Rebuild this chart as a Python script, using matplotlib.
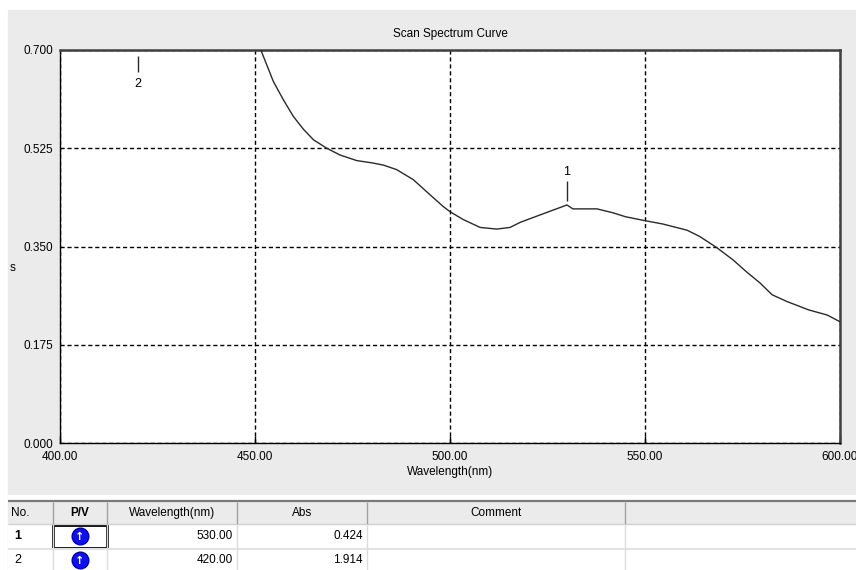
import numpy as np
import matplotlib
matplotlib.use("Agg")
import matplotlib.pyplot as plt
from matplotlib.patches import Rectangle

plt.rcParams['font.family'] = ['Liberation Sans', 'DejaVu Sans']

# spectrum (wavelength in nm, absorbance)
wavelength = [450.5, 451.5, 454.7, 457.3, 459.8, 462.4, 465.0, 468.4, 471.8, 476.1,
              480.0, 482.9, 486.3, 490.6, 494.9, 498.3, 500.0, 503.4, 507.7, 512.0,
              515.4, 518.0, 523.0, 526.5, 530.0, 531.5, 537.7, 541.8, 545.0, 550.0,
              554.6, 560.8, 564.0, 568.4, 572.6, 576.0, 579.5, 582.6, 586.4, 592.0,
              596.7, 600.0]
absorb = [0.718, 0.700, 0.644, 0.611, 0.582, 0.559, 0.540, 0.525, 0.513, 0.503,
          0.499, 0.495, 0.487, 0.469, 0.442, 0.421, 0.412, 0.398, 0.384, 0.381,
          0.384, 0.393, 0.406, 0.415, 0.424, 0.417, 0.417, 0.410, 0.403, 0.396,
          0.390, 0.379, 0.368, 0.348, 0.326, 0.305, 0.285, 0.264, 0.252, 0.237,
          0.228, 0.216]

# peak table
peak_no = [1, 2]
peak_wl = [530.00, 420.00]
peak_abs = [0.424, 1.914]

x_ticks = [400, 450, 500, 550, 600]
y_ticks = [0.0, 0.175, 0.350, 0.525, 0.700]
col_names = ["No.", "P/V", "Wavelength(nm)", "Abs", "Comment", ""]

W, H = 856, 570
gray = '#ebebeb'
fs = 8.5
fig = plt.figure(figsize=(W / 100, H / 100), dpi=100, facecolor='white')
# grey window background below a thin white strip
fig.patches.append(Rectangle((8 / W, 0), 1, (H - 10) / H, transform=fig.transFigure,
                             color=gray, zorder=-10))

# ---- main chart ----
ax = fig.add_axes([60 / W, (H - 443) / H, 780 / W, 393 / H])
ax.set_facecolor('white')
ax.plot(wavelength, absorb, color='#2a2a2a', lw=1.0, zorder=3)
ax.set_xlim(400, 600)
ax.set_ylim(0, 0.7)
ax.set_xticks(x_ticks)
ax.set_yticks(y_ticks)
ax.set_xticklabels(["%.2f" % v for v in x_ticks], fontsize=fs)
ax.set_yticklabels(["%.3f" % v for v in y_ticks], fontsize=fs)
ax.tick_params(axis='x', direction='in', length=5, width=1, pad=6)
ax.tick_params(axis='y', length=0, pad=5)
ax.grid(True, color='black', linestyle=(0, (3, 2)), lw=1)
for s in ['left', 'bottom']:
    ax.spines[s].set_color('black')
    ax.spines[s].set_linewidth(1)
for s in ['top', 'right']:
    ax.spines[s].set_color('#404040')
    ax.spines[s].set_linewidth(1.8)
ax.set_title("Scan Spectrum Curve", fontsize=fs, pad=9)
ax.set_xlabel("Wavelength(nm)", fontsize=fs, labelpad=2)
fig.text(10 / W, (H - 268) / H, "s", fontsize=fs, va='center')

# peak markers
px = 0.7 / 393
for n, w, a in zip(peak_no, peak_wl, peak_abs):
    if a <= 0.7:
        ax.vlines(w, a + 4 * px, a + 24 * px, color='#2a2a2a', lw=1)
        ax.text(w, a + 33 * px, str(n), ha='center', va='center', fontsize=9)
    else:
        ax.vlines(w, 0.7 - 6 * px, 0.7 - 22 * px, color='#2a2a2a', lw=1)
        ax.text(w, 0.7 - 34 * px, str(n), ha='center', va='center', fontsize=9)

# ---- peak table (pixel coordinates) ----
at = fig.add_axes([0, 0, 1, 75 / H])
at.set_xlim(0, W)
at.set_ylim(H, H - 75)
at.axis('off')
col_edges = [8, 53, 107, 237, 367, 625, W]
at.add_patch(Rectangle((8, 495), W, 5, color='white', lw=0))
at.add_patch(Rectangle((8, 502), W, 22, color=gray, lw=0))
at.hlines(501, 8, W, color='#7a7a7a', lw=1.6)
at.hlines(524, 8, W, color='#d0d0d0', lw=1)
at.add_patch(Rectangle((8, 524.5), W, 50, color='white', lw=0))
at.hlines(548.5, 8, W, color='#e2e2e2', lw=1.5)
for e in col_edges[1:-1]:
    at.vlines(e, 502, 524, color='#a0a0a0', lw=1)
    at.vlines(e, 524, 570, color='#dcdcdc', lw=1)

hy = 513
for i, name in enumerate(col_names):
    if not name:
        continue
    if i == 0:
        at.text(11, hy, name, ha='left', va='center', fontsize=fs)
    else:
        cx = (col_edges[i] + col_edges[i + 1]) / 2
        at.text(cx, hy, name, ha='center', va='center', fontsize=fs,
                fontweight='bold' if name == "P/V" else 'normal')

row_y = [536, 560]
for r, (n, w, a) in enumerate(zip(peak_no, peak_wl, peak_abs)):
    y = row_y[r]
    at.text(14, y, str(n), ha='left', va='center', fontsize=9,
            fontweight='bold' if r == 0 else 'normal')
    at.plot(80, y, 'o', ms=12, mfc='#1010e8', mec='#0000b0', mew=1)
    at.text(80, y + 0.5, u"\u2191", ha='center', va='center', color='white',
            fontsize=8, fontweight='bold', family='DejaVu Sans')
    at.text(233, y, "%.2f" % w, ha='right', va='center', fontsize=fs)
    at.text(363, y, "%.3f" % a, ha='right', va='center', fontsize=fs)
# selected cell
at.add_patch(Rectangle((53, 524.5), 54, 23.5, fill=False, ec='black', lw=2))

fig.savefig("out.png", dpi=100, facecolor=fig.get_facecolor())
